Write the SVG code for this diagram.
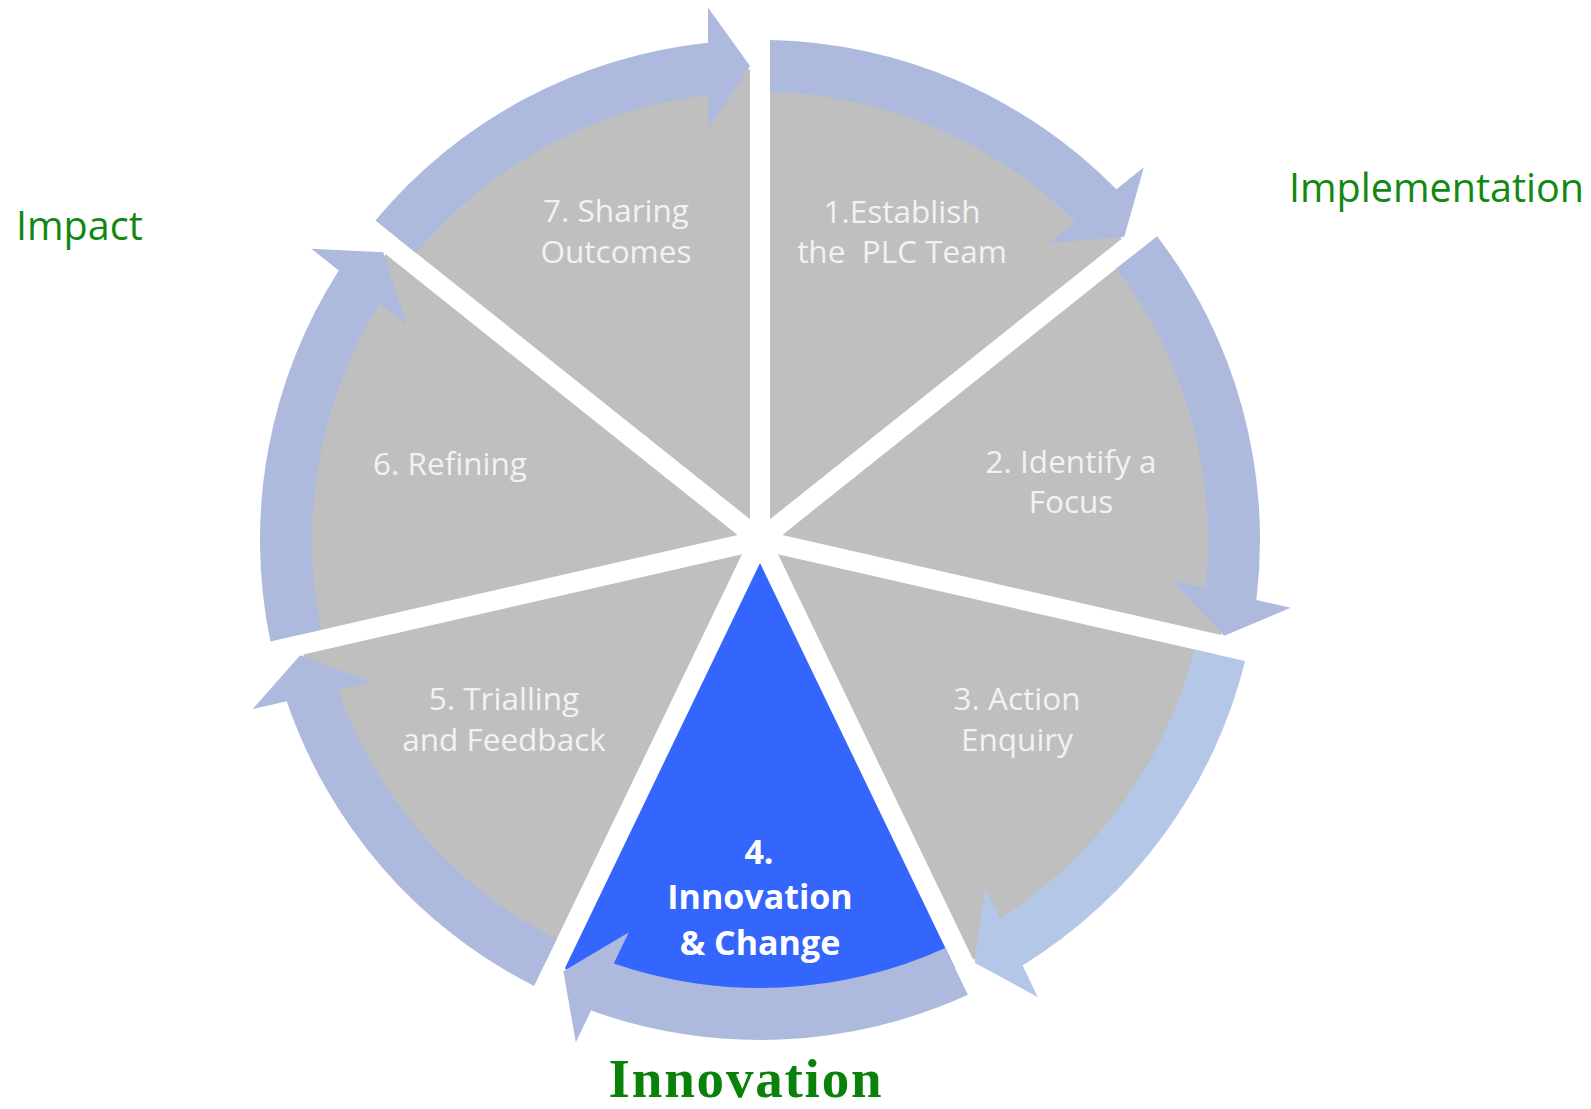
<svg xmlns="http://www.w3.org/2000/svg" width="1591" height="1109" viewBox="0 0 1591 1109">
  <style>
    .wedge { fill: #BFBFBF; }
    .wedge.hi { fill: #3466FE; }
    .arr { fill: #AEBADD; }
    .arr.light { fill: #B4C7E7; }
    .lbl { font-family: "Open Sans", "Liberation Sans", sans-serif; font-size: 31.5px; fill: #F2F2F2; text-anchor: middle; }
    .lbl.bold { font-weight: bold; font-size: 34px; fill: #FFFFFF; }
    .phase { font-family: "Open Sans", "Liberation Sans", sans-serif; font-size: 39.5px; fill: #118811; }
    .phase.big { font-family: "Liberation Serif", serif; font-weight: bold; font-size: 55px; letter-spacing: 1.8px; fill: #0A820A; text-anchor: middle; }
  </style>
  <defs>
    <!-- one exploded pie segment (spans -141.43deg to -90deg around the hub) -->
    <path id="wedge" d="M -9.98,-20.72 L -361.8,-301.29 A 450 450 0 0 1 -9.98,-470.72 Z"/>
    <!-- curved arrow riding on the rim of that segment -->
    <path id="arrow" d="M -384.6,-319.5 A 500 500 0 0 1 -52,-497.29 L -52,-532.47 L -9.98,-473.9 L -52,-410.72 L -52,-444.97 A 448 448 0 0 0 -343.9,-287.1 Z"/>
  </defs>

  <g id="node-1">
    <use href="#wedge" class="wedge" transform="translate(760 540) rotate(51.4286)"/>
    <text class="lbl" x="902" y="223">1.Establish</text>
    <text class="lbl" x="902" y="263" xml:space="preserve">the  PLC Team</text>
  </g>
  <g id="node-2">
    <use href="#wedge" class="wedge" transform="translate(760 540) rotate(102.8571)"/>
    <text class="lbl" x="1071" y="473">2. Identify a</text>
    <text class="lbl" x="1071" y="513">Focus</text>
  </g>
  <g id="node-3">
    <use href="#wedge" class="wedge" transform="translate(760 540) rotate(154.2857)"/>
    <text class="lbl" x="1017" y="710">3. Action</text>
    <text class="lbl" x="1017" y="751">Enquiry</text>
  </g>
  <g id="node-4">
    <use href="#wedge" class="wedge hi" transform="translate(760 540) rotate(205.7143)"/>
  </g>
  <g id="node-5">
    <use href="#wedge" class="wedge" transform="translate(760 540) rotate(257.1429)"/>
    <text class="lbl" x="504" y="710">5. Trialling</text>
    <text class="lbl" x="504" y="751">and Feedback</text>
  </g>
  <g id="node-6">
    <use href="#wedge" class="wedge" transform="translate(760 540) rotate(308.5714)"/>
    <text class="lbl" x="450" y="475">6. Refining</text>
  </g>
  <g id="node-7">
    <use href="#wedge" class="wedge" transform="translate(760 540)"/>
    <text class="lbl" x="616" y="222">7. Sharing</text>
    <text class="lbl" x="616" y="263">Outcomes</text>
  </g>

  <g id="connectors">
    <use href="#arrow" class="arr" transform="translate(760 540) rotate(51.4286)"/>
    <use href="#arrow" class="arr" transform="translate(760 540) rotate(102.8571)"/>
    <use href="#arrow" class="arr light" transform="translate(760 540) rotate(154.2857)"/>
    <use href="#arrow" class="arr" transform="translate(760 540) rotate(205.7143)"/>
    <use href="#arrow" class="arr" transform="translate(760 540) rotate(257.1429)"/>
    <use href="#arrow" class="arr" transform="translate(760 540) rotate(308.5714)"/>
    <use href="#arrow" class="arr" transform="translate(760 540)"/>
  </g>

  <!-- label of the highlighted segment sits above its rim arrow -->
  <g id="node-4-label">
    <text class="lbl bold" x="759" y="864">4.</text>
    <text class="lbl bold" x="760" y="909">Innovation</text>
    <text class="lbl bold" x="760" y="955">&amp; Change</text>
  </g>

  <g id="phases">
    <text class="phase" x="1289" y="202">Implementation</text>
    <text class="phase" x="16" y="240">Impact</text>
    <text class="phase big" x="746" y="1097">Innovation</text>
  </g>
</svg>
